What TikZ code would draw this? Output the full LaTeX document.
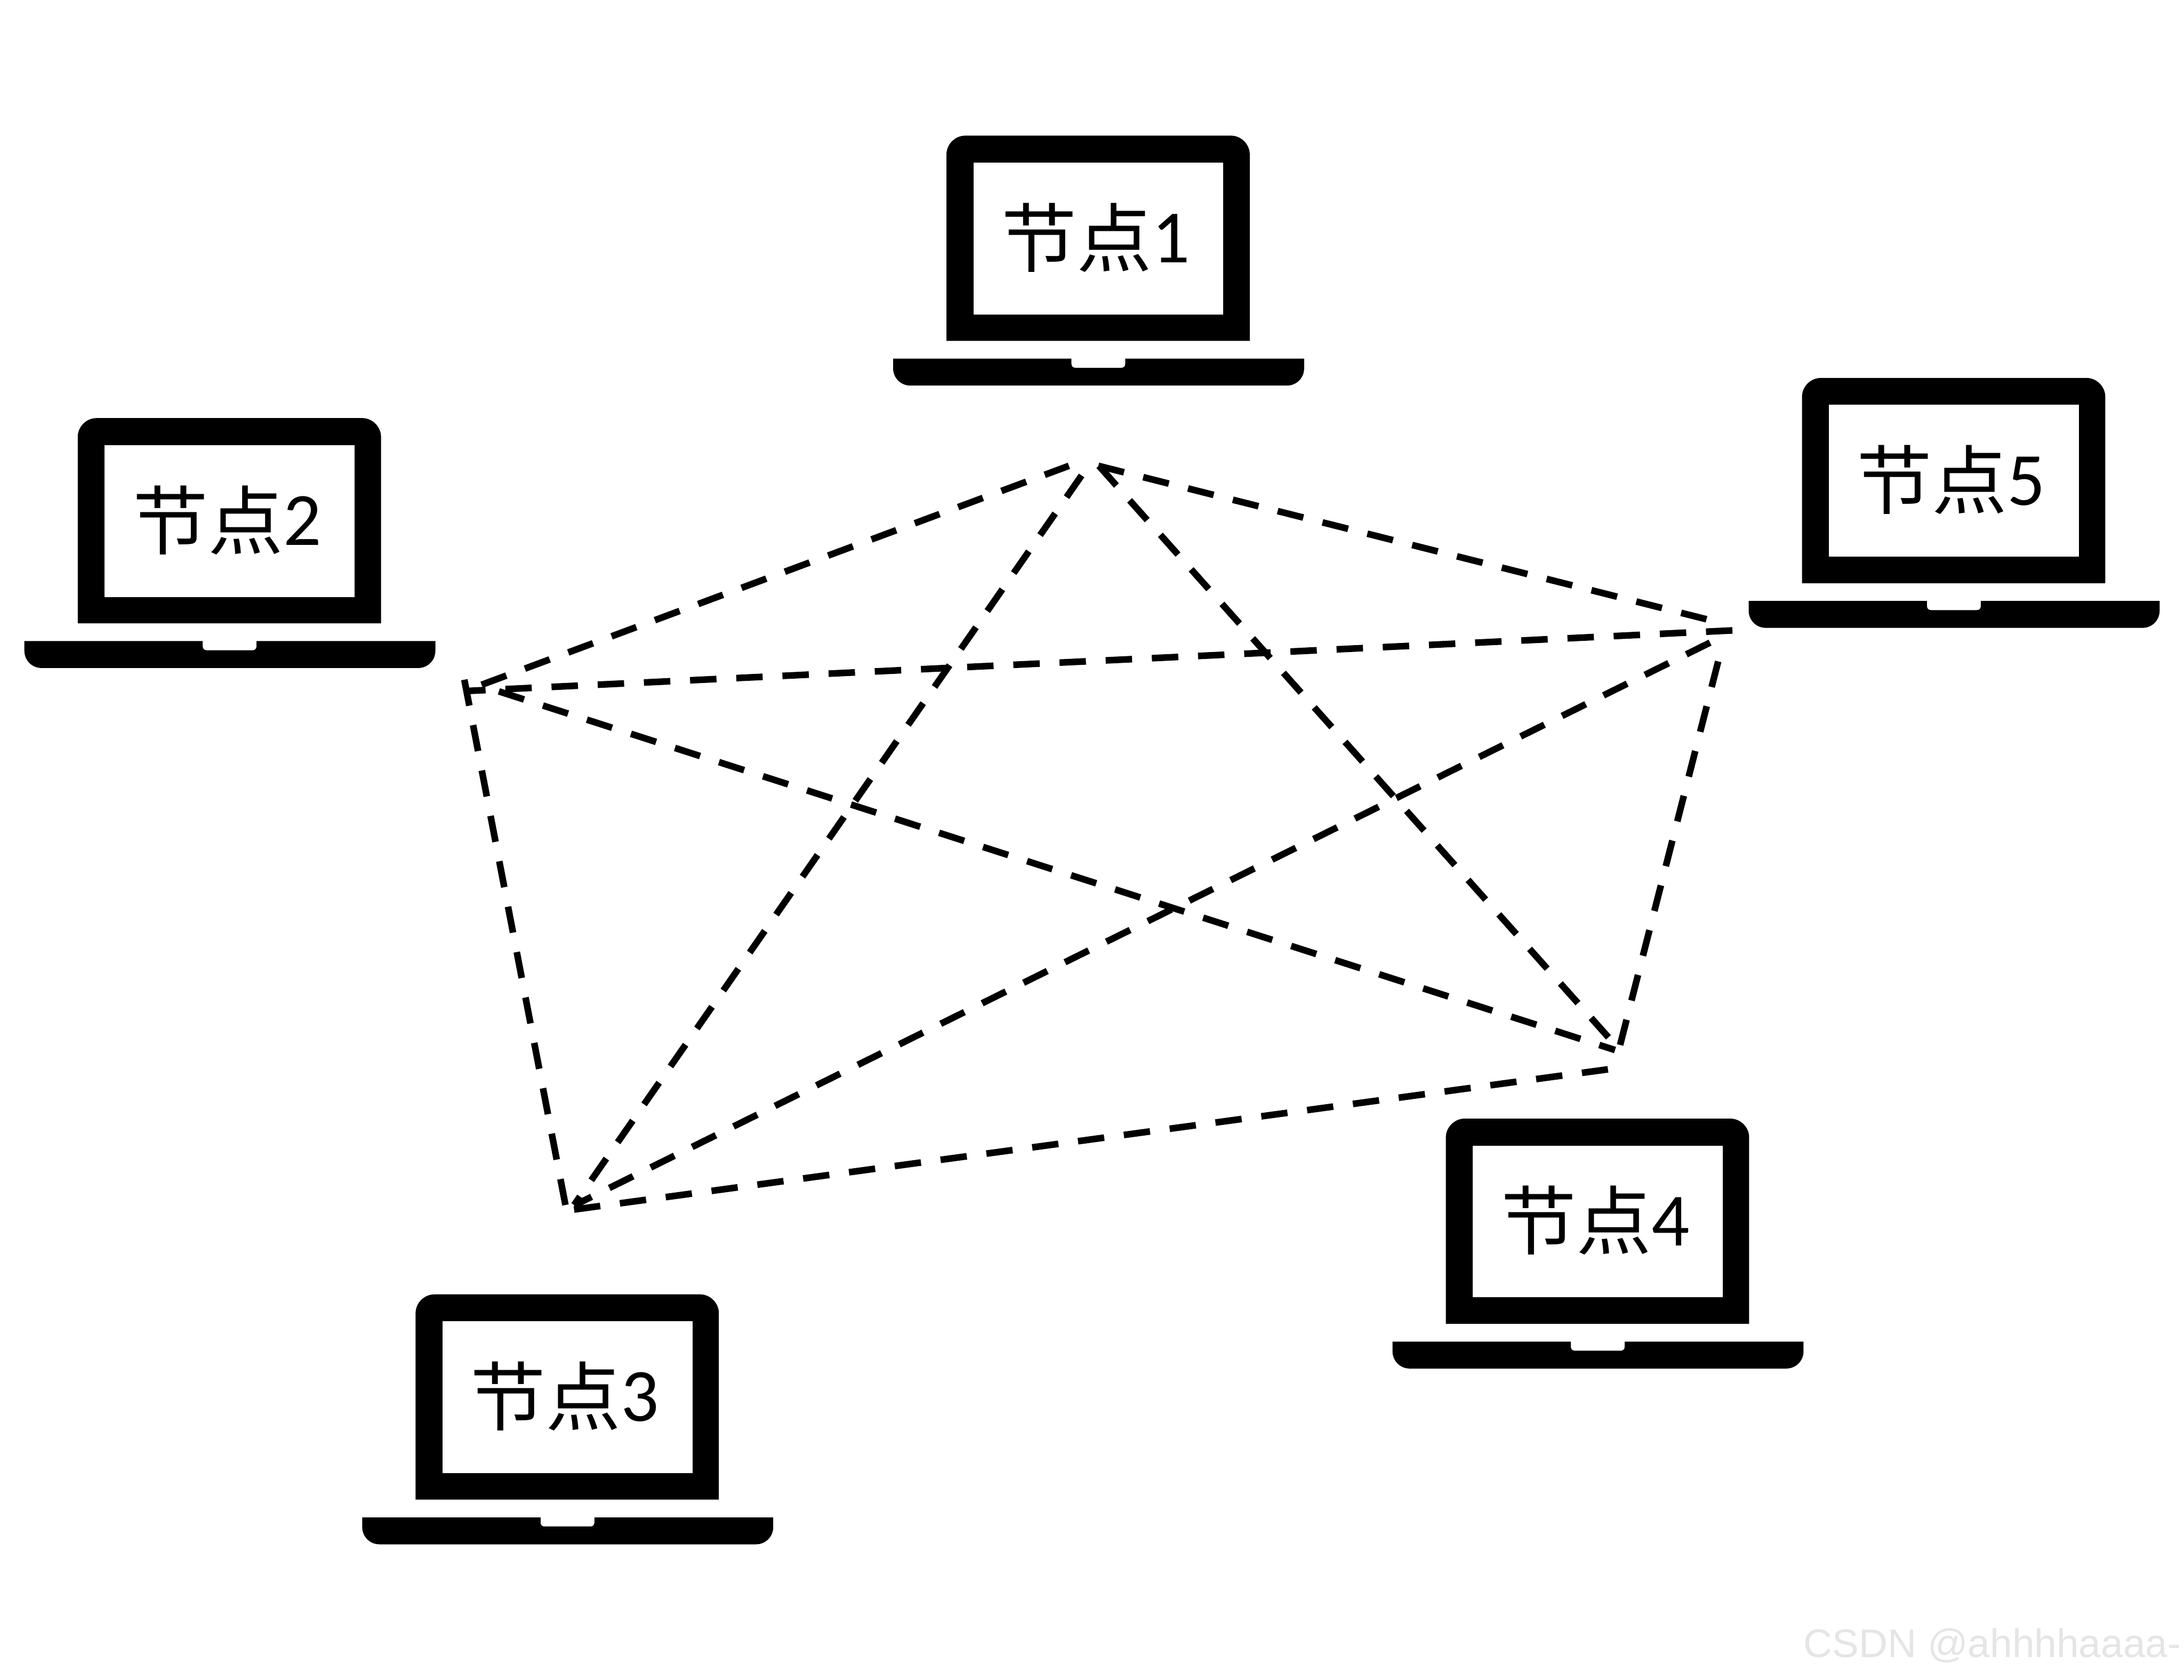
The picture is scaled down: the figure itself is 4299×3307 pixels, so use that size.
\documentclass[tikz,border=0pt]{standalone}
\usepackage{fontspec}
\setmainfont{Carlito}
\newfontfamily\cjk{Noto Sans CJK SC}
\newfontfamily\marksans{Liberation Sans}
\tikzset{
    laptopink/.style={fill=black,draw=none},
    link/.style={line width=2.6pt,dash pattern=on 10.4pt off 7.8pt},
    hostname/.style={anchor=base,inner sep=0pt,font=\fontsize{29.6}{30}\selectfont},
    watermark/.style={anchor=base west,inner sep=0pt,text=black!10,font=\marksans\fontsize{15.7}{16}\selectfont},
    laptop/.pic={
        %Shape: Lid
        \path[laptopink] (0,404) -- (0,37) .. controls (0,17) and (17,0) .. (37,0) -- (560,0) .. controls (580,0) and (597,17) .. (597,37) -- (597,404) -- cycle ;
        %Shape: Rectangle
        \path[fill=white] (53,53) -- (545,53) -- (545,352) -- (53,352) -- cycle ;
        %Shape: Base
        \path[laptopink] (-105,439) -- (246,439) -- (246,449) .. controls (246,454) and (249,457) .. (254,457) -- (344,457) .. controls (349,457) and (352,454) .. (352,449) -- (352,439) -- (704,439) -- (704,458) .. controls (704,477) and (689,492) .. (670,492) -- (-71,492) .. controls (-90,492) and (-105,477) .. (-105,458) -- cycle ;
    }
}

\begin{document}
\begin{tikzpicture}[x=0.2pt,y=0.2pt,yscale=-1,xscale=1]
        \useasboundingbox (0,0) rectangle (4299,3307);

        %Shape: Laptops
        \pic[transform shape] at (1863,267) {laptop};
        \pic[transform shape] at (153,823) {laptop};
        \pic[transform shape] at (818,2548) {laptop};
        \pic[transform shape] at (2846,2202) {laptop};
        \pic[transform shape] at (3547,744) {laptop};

        % Text Node
        \node[hostname] (host1) at (2157,517) {{\cjk\raisebox{-1.4pt}{节点}}1};
        % Text Node
        \node[hostname] (host2) at (447,1073) {{\cjk\raisebox{-1.4pt}{节点}}2};
        % Text Node
        \node[hostname] (host3) at (1112,2798) {{\cjk\raisebox{-1.4pt}{节点}}3};
        % Text Node
        \node[hostname] (host4) at (3140,2452) {{\cjk\raisebox{-1.4pt}{节点}}4};
        % Text Node
        \node[hostname] (host5) at (3841,994) {{\cjk\raisebox{-1.4pt}{节点}}5};
        % Text Node
        \node[watermark] (mark) at (3549,3263) {CSDN @ahhhhaaaa-};

        %Link ends
        \coordinate (p21) at (948,1348);
        \coordinate (p12) at (2104,917);
        \coordinate (p15) at (2162,917);
        \coordinate (p51) at (3359,1219);
        \coordinate (p14) at (2163,917);
        \coordinate (p41) at (3166,2042);
        \coordinate (p13) at (2129,936);
        \coordinate (p31) at (1130,2372);
        \coordinate (p53) at (3366,1265);
        \coordinate (p35) at (1130,2373);
        \coordinate (p52) at (3410,1241);
        \coordinate (p25) at (923,1360);
        \coordinate (p54) at (3382,1302);
        \coordinate (p45) at (3189,2057);
        \coordinate (p23) at (914,1338);
        \coordinate (p32) at (1113,2372);
        \coordinate (p24) at (982,1361);
        \coordinate (p42) at (3179,2067);
        \coordinate (p34) at (1130,2381);
        \coordinate (p43) at (3165,2105);

        %Straight Lines
        \draw[link] (p21) -- (p12) ;
        \draw[link] (p15) -- (p51) ;
        \draw[link] (p14) -- (p41) ;
        \draw[link] (p13) -- (p31) ;
        \draw[link] (p53) -- (p35) ;
        \draw[link] (p52) -- (p25) ;
        \draw[link] (p54) -- (p45) ;
        \draw[link] (p23) -- (p32) ;
        \draw[link] (p24) -- (p42) ;
        \draw[link] (p34) -- (p43) ;
\end{tikzpicture}
\end{document}
